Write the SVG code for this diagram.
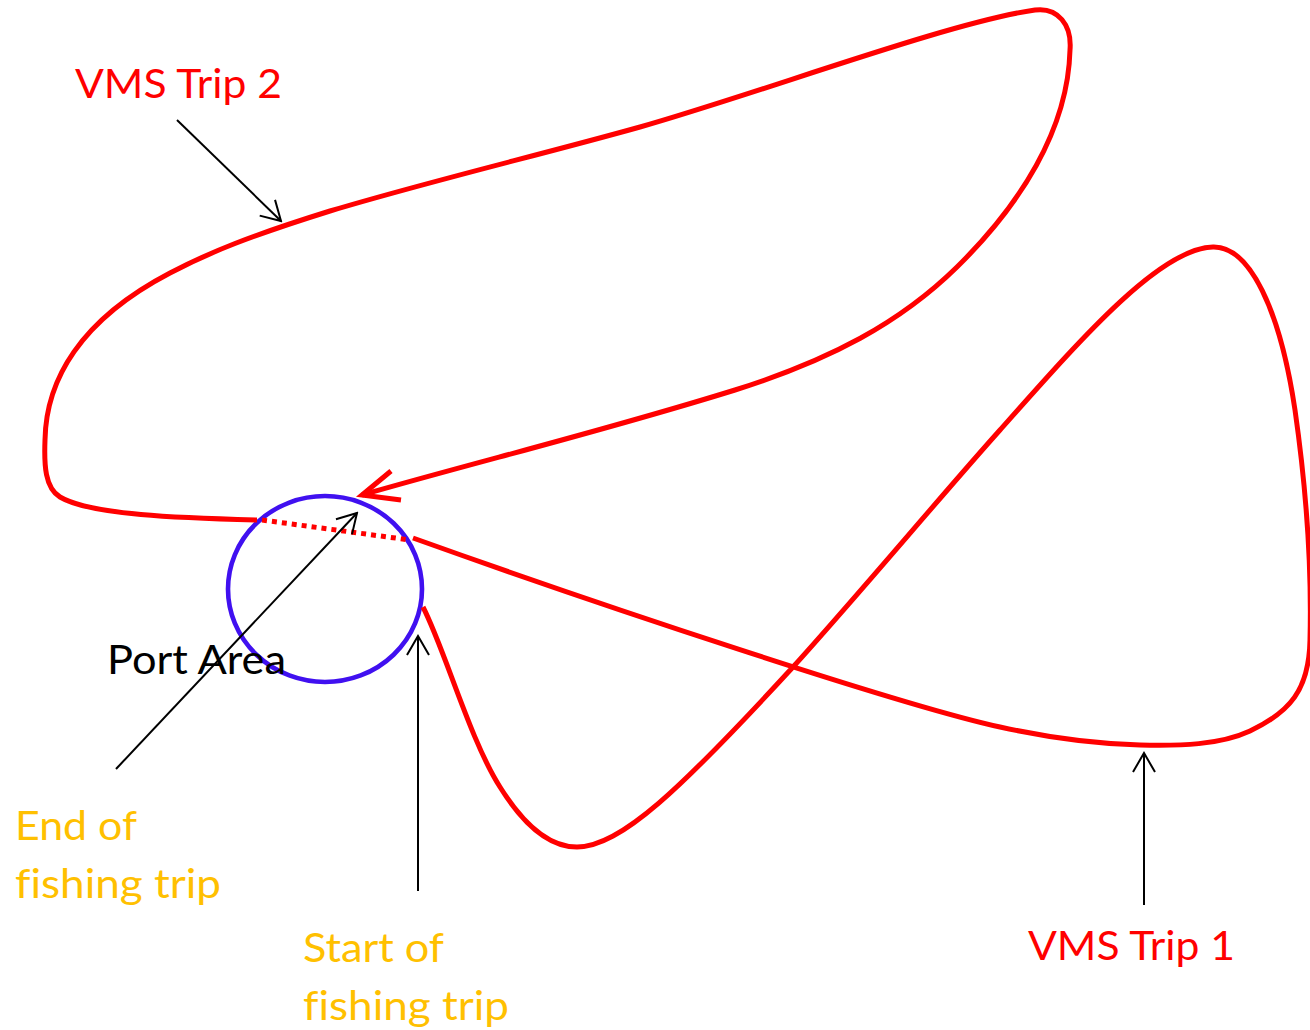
<svg xmlns="http://www.w3.org/2000/svg" width="1310" height="1030" viewBox="0 0 1310 1030">
<style>
.trk{fill:none;stroke:#FF0000;stroke-width:5;stroke-linecap:butt;stroke-linejoin:round}
.ptr{fill:none;stroke:#000;stroke-width:2}
.lbl{font-family:Lato,"Liberation Sans",sans-serif;font-size:41px;font-variant-ligatures:none}
.red{fill:#FF0000}
.org{fill:#FFC000}
.blk{fill:#000}
</style>
<defs>
<marker id="ah" markerUnits="userSpaceOnUse" markerWidth="24" markerHeight="26" viewBox="-22 -13 24 26" refX="0" refY="0" orient="auto">
<path d="M-19,-11 L0,0 L-19,11" fill="none" stroke="#000" stroke-width="2"/>
</marker>
</defs>
<rect width="1310" height="1030" fill="#fff"/>
<g id="port-area">
<ellipse cx="325" cy="589" rx="97" ry="93" fill="none" stroke="#4010F0" stroke-width="4.6"/>
</g>
<g id="vms-trip-2">
<path class="trk" d="M257,520 C180,518 90,515 60,497 C45,488 44,465 45,440 C46,380 80,320 170,273 C210,252 250,236 330,211 C430,181 540,155 640,127 C760,93 950,22 1035,10 C1058,7 1072,25 1070,50 C1068,130 1020,205 957,267 C900,323 830,360 735,390 C600,432 480,461 362,495"/>
<path d="M391,471 L362,495 L401,500" fill="none" stroke="#FF0000" stroke-width="5" stroke-linejoin="miter"/>
</g>
<g id="port-link">
<path d="M262,520 L410,540" fill="none" stroke="#FF0000" stroke-width="5" stroke-dasharray="5 5"/>
</g>
<g id="vms-trip-1">
<path class="trk" d="M423,607 C445,650 470,740 500,787 C525,827 550,847 577,847 C620,847 680,790 793,667 C860,593 940,497 1000,430 C1080,340 1160,248 1213,247 C1250,246 1280,310 1295,410 C1305,480 1312,560 1310,640 C1309,690 1290,712 1250,731 C1220,745 1180,746 1140,745 C1100,744 1050,738 1000,727 C900,705 600,605 413,538"/>
</g>
<g id="connectors">
<line class="ptr" x1="177" y1="120" x2="281" y2="221" marker-end="url(#ah)"/>
<line class="ptr" x1="116" y1="769" x2="357" y2="513" marker-end="url(#ah)"/>
<line class="ptr" x1="418" y1="891" x2="418" y2="636" marker-end="url(#ah)"/>
<line class="ptr" x1="1144" y1="905" x2="1144" y2="753" marker-end="url(#ah)"/>
</g>
<g id="label-trip2"><text class="lbl red" x="75" y="98" textLength="207" lengthAdjust="spacingAndGlyphs">VMS Trip 2</text></g>
<g id="label-port"><text class="lbl blk" x="107" y="674" textLength="179" lengthAdjust="spacingAndGlyphs">Port Area</text></g>
<g id="label-end">
<text class="lbl org" x="15" y="840" textLength="122" lengthAdjust="spacingAndGlyphs">End of</text>
<text class="lbl org" x="15" y="898" textLength="206" lengthAdjust="spacingAndGlyphs">fishing trip</text>
</g>
<g id="label-start">
<text class="lbl org" x="303" y="962" textLength="141" lengthAdjust="spacingAndGlyphs">Start of</text>
<text class="lbl org" x="303" y="1020" textLength="206" lengthAdjust="spacingAndGlyphs">fishing trip</text>
</g>
<g id="label-trip1"><text class="lbl red" x="1028" y="960" textLength="207" lengthAdjust="spacingAndGlyphs">VMS Trip 1</text></g>
</svg>
